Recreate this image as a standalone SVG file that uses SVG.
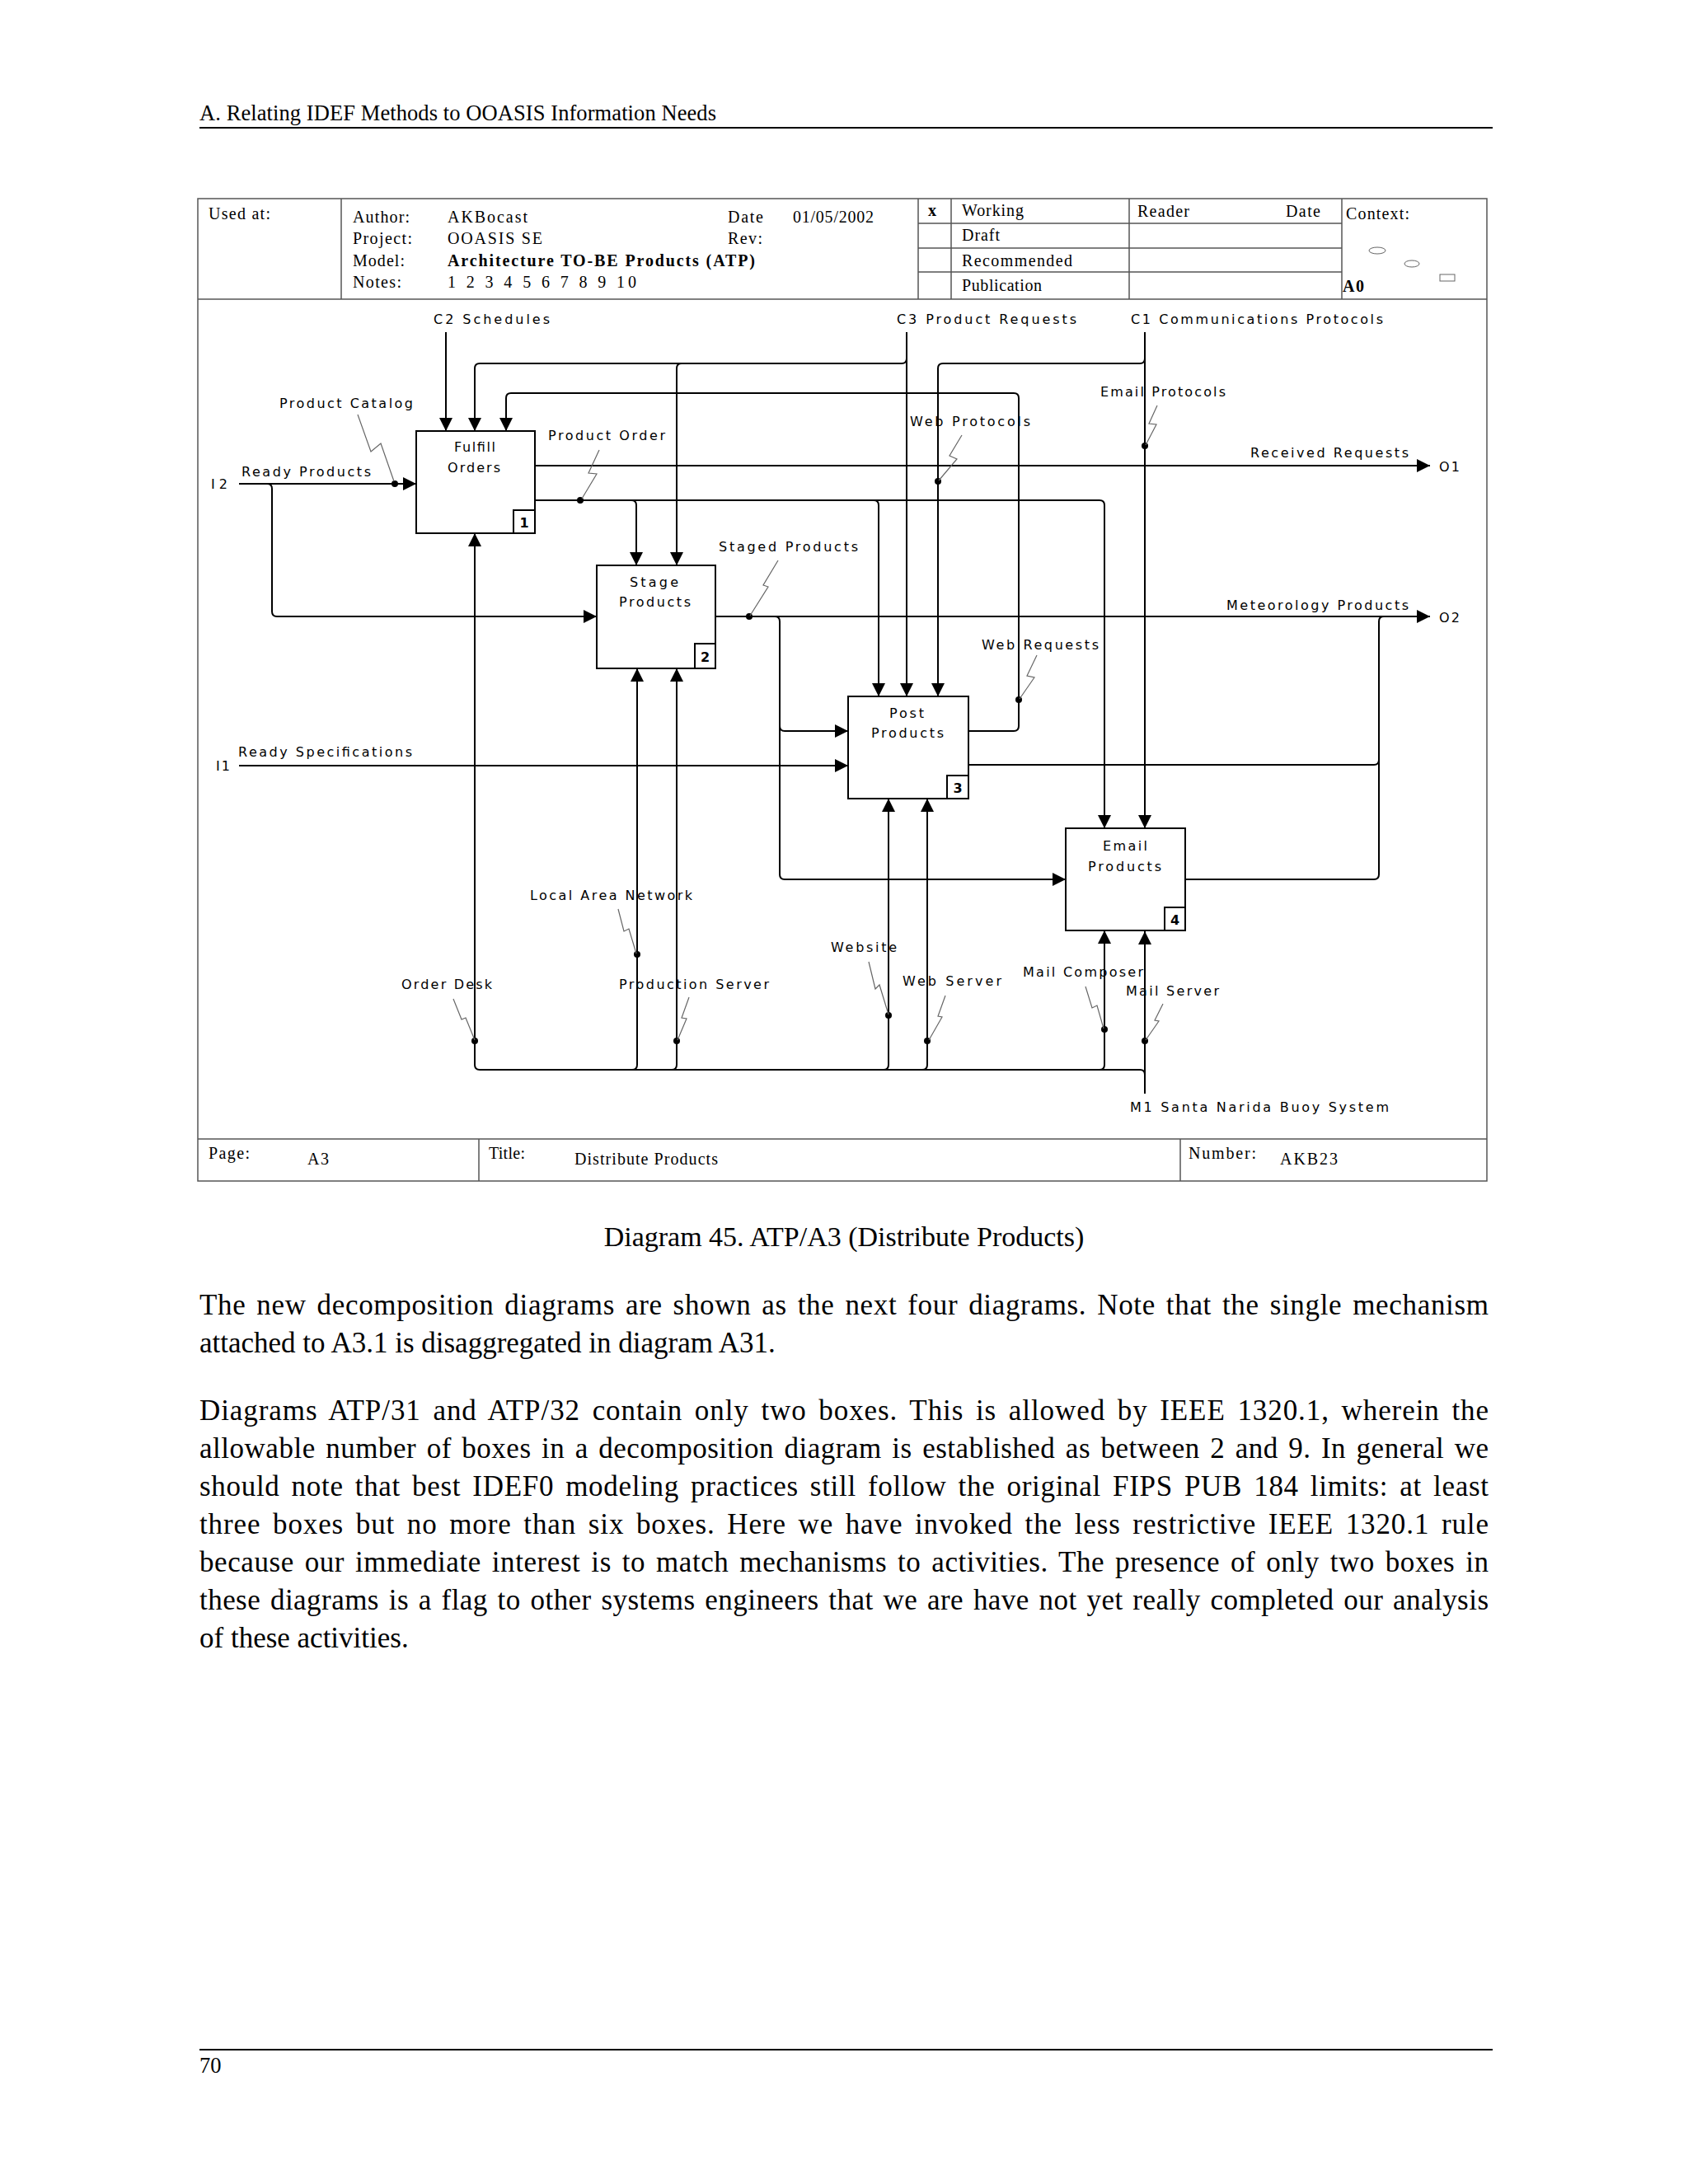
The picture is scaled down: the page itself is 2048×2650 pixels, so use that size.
<svg xmlns="http://www.w3.org/2000/svg" width="2048" height="2650" viewBox="0 0 2048 2650">
<style>
.fr{fill:none;stroke:#555;stroke-width:1.5}
.ln{fill:none;stroke:#000;stroke-width:2}
.sq{fill:none;stroke:#666;stroke-width:1.2}
.box{fill:#fff;stroke:#000;stroke-width:2}
.lb{font-family:"DejaVu Sans",Verdana,sans-serif;font-size:16px;fill:#000}
.num{font-family:"DejaVu Sans",Verdana,sans-serif;font-size:16px;font-weight:bold;fill:#000}
.hd{font-family:"Liberation Serif","Times New Roman",serif;font-size:20px;fill:#000}
.doc{font-family:"Liberation Serif","Times New Roman",serif;font-size:35px;fill:#000}
.dot{fill:#000}
</style>
<defs>
<marker id="ah" viewBox="0 0 16 16" refX="16" refY="8" markerWidth="16" markerHeight="16" markerUnits="userSpaceOnUse" orient="auto"><path d="M0,0 L16,8 L0,16 z" fill="#000"/></marker>
</defs>
<rect width="2048" height="2650" fill="#fff"/>

<g id="page-header">
<text class="doc" x="242" y="146" style="font-size:26.5px" textLength="627" lengthAdjust="spacing">A. Relating IDEF Methods to OOASIS Information Needs</text>
<line x1="242" y1="155" x2="1811" y2="155" stroke="#000" stroke-width="2"/>
</g>

<g id="frame">
<rect class="fr" x="240" y="241" width="1564" height="1192"/>
<line class="fr" x1="240" y1="363" x2="1804" y2="363"/>
<line class="fr" x1="414" y1="241" x2="414" y2="363"/>
<line class="fr" x1="1114" y1="241" x2="1114" y2="363"/>
<line class="fr" x1="1154" y1="241" x2="1154" y2="363"/>
<line class="fr" x1="1370" y1="241" x2="1370" y2="363"/>
<line class="fr" x1="1628" y1="241" x2="1628" y2="363"/>
<line class="fr" x1="1114" y1="271" x2="1628" y2="271"/>
<line class="fr" x1="1114" y1="301" x2="1628" y2="301"/>
<line class="fr" x1="1114" y1="330" x2="1628" y2="330"/>
<line class="fr" x1="240" y1="1382" x2="1804" y2="1382"/>
<line class="fr" x1="581" y1="1382" x2="581" y2="1433"/>
<line class="fr" x1="1432" y1="1382" x2="1432" y2="1433"/>
<ellipse cx="1671" cy="304" rx="10" ry="4" fill="none" stroke="#666" stroke-width="1"/>
<ellipse cx="1713" cy="320" rx="9" ry="4" fill="none" stroke="#666" stroke-width="1"/>
<rect x="1747" y="333" width="18" height="8" fill="none" stroke="#666" stroke-width="1"/>
</g>

<g id="header-text">
<text class="hd" x="253" y="266" textLength="75" lengthAdjust="spacing">Used at:</text>
<text class="hd" x="428" y="270" textLength="69" lengthAdjust="spacing">Author:</text>
<text class="hd" x="428" y="296" textLength="72" lengthAdjust="spacing">Project:</text>
<text class="hd" x="428" y="323" textLength="63" lengthAdjust="spacing">Model:</text>
<text class="hd" x="428" y="349" textLength="59" lengthAdjust="spacing">Notes:</text>
<text class="hd" x="543" y="270" textLength="97" lengthAdjust="spacing">AKBocast</text>
<text class="hd" x="543" y="296" textLength="115" lengthAdjust="spacing">OOASIS SE</text>
<text class="hd" x="543" y="323" font-weight="bold" textLength="373" lengthAdjust="spacing">Architecture TO-BE Products (ATP)</text>
<text class="hd" x="543" y="349" textLength="229" lengthAdjust="spacing">1 2 3 4 5 6 7 8 9 10</text>
<text class="hd" x="883" y="270" textLength="43" lengthAdjust="spacing">Date</text>
<text class="hd" x="883" y="296" textLength="42" lengthAdjust="spacing">Rev:</text>
<text class="hd" x="962" y="270" textLength="98" lengthAdjust="spacing">01/05/2002</text>
<text class="hd" x="1126" y="262" font-weight="bold">x</text>
<text class="hd" x="1167" y="262" textLength="75" lengthAdjust="spacing">Working</text>
<text class="hd" x="1167" y="292" textLength="46" lengthAdjust="spacing">Draft</text>
<text class="hd" x="1167" y="323" textLength="134" lengthAdjust="spacing">Recommended</text>
<text class="hd" x="1167" y="353" textLength="97" lengthAdjust="spacing">Publication</text>
<text class="hd" x="1380" y="263" textLength="63" lengthAdjust="spacing">Reader</text>
<text class="hd" x="1560" y="263" textLength="42" lengthAdjust="spacing">Date</text>
<text class="hd" x="1633" y="266" textLength="77" lengthAdjust="spacing">Context:</text>
<text class="hd" x="1629" y="354" font-weight="bold" textLength="26" lengthAdjust="spacing">A0</text>
</g>

<g id="footer-text">
<text class="hd" x="253" y="1406" textLength="50" lengthAdjust="spacing">Page:</text>
<text class="hd" x="373" y="1413" textLength="26" lengthAdjust="spacing">A3</text>
<text class="hd" x="593" y="1406" textLength="44" lengthAdjust="spacing">Title:</text>
<text class="hd" x="697" y="1413" textLength="174" lengthAdjust="spacing">Distribute Products</text>
<text class="hd" x="1442" y="1406" textLength="82" lengthAdjust="spacing">Number:</text>
<text class="hd" x="1553" y="1413" textLength="70" lengthAdjust="spacing">AKB23</text>
</g>

<g id="connectors">
<path class="ln" d="M541,403 V523" marker-end="url(#ah)"/>
<path class="ln" d="M1100,403 V845" marker-end="url(#ah)"/>
<path class="ln" d="M1100,435 Q1100,441 1094,441 H582 Q576,441 576,447 V523" marker-end="url(#ah)"/>
<path class="ln" d="M827,441 Q821,441 821,447 V686" marker-end="url(#ah)"/>
<path class="ln" d="M1389,403 V1005" marker-end="url(#ah)"/>
<path class="ln" d="M1389,435 Q1389,441 1383,441 H1144 Q1138,441 1138,447 V845" marker-end="url(#ah)"/>
<path class="ln" d="M1175,887 H1230 Q1236,887 1236,881 V483 Q1236,477 1230,477 H620 Q614,477 614,483 V523" marker-end="url(#ah)"/>
<path class="ln" d="M290,587 H505" marker-end="url(#ah)"/>
<path class="ln" d="M324,587 Q330,587 330,593 V742 Q330,748 336,748 H724" marker-end="url(#ah)"/>
<path class="ln" d="M649,565 H1735" marker-end="url(#ah)"/>
<path class="ln" d="M649,607 H1334 Q1340,607 1340,613 V1005" marker-end="url(#ah)"/>
<path class="ln" d="M766,607 Q772,607 772,613 V686" marker-end="url(#ah)"/>
<path class="ln" d="M1060,607 Q1066,607 1066,613 V845" marker-end="url(#ah)"/>
<path class="ln" d="M868,748 H1735" marker-end="url(#ah)"/>
<path class="ln" d="M940,748 Q946,748 946,754 V881 Q946,887 952,887 H1029" marker-end="url(#ah)"/>
<path class="ln" d="M946,880 V1061 Q946,1067 952,1067 H1293" marker-end="url(#ah)"/>
<path class="ln" d="M290,929 H1029" marker-end="url(#ah)"/>
<path class="ln" d="M1175,928 H1667 Q1673,928 1673,922"/>
<path class="ln" d="M1438,1067 H1667 Q1673,1067 1673,1061 V754 Q1673,748 1679,748"/>
<path class="ln" d="M1389,1327 V1130" marker-end="url(#ah)"/>
<path class="ln" d="M1389,1304 Q1389,1298 1383,1298 H582 Q576,1298 576,1292 V647" marker-end="url(#ah)"/>
<path class="ln" d="M767,1298 Q773,1298 773,1292 V811" marker-end="url(#ah)"/>
<path class="ln" d="M815,1298 Q821,1298 821,1292 V811" marker-end="url(#ah)"/>
<path class="ln" d="M1072,1298 Q1078,1298 1078,1292 V969" marker-end="url(#ah)"/>
<path class="ln" d="M1119,1298 Q1125,1298 1125,1292 V969" marker-end="url(#ah)"/>
<path class="ln" d="M1334,1298 Q1340,1298 1340,1292 V1129" marker-end="url(#ah)"/>
<circle class="dot" cx="479" cy="587" r="4"/>
<circle class="dot" cx="704" cy="607" r="4"/>
<circle class="dot" cx="909" cy="748" r="4"/>
<circle class="dot" cx="1138" cy="584" r="4"/>
<circle class="dot" cx="1389" cy="541" r="4"/>
<circle class="dot" cx="1236" cy="849" r="4"/>
<circle class="dot" cx="576" cy="1263" r="4"/>
<circle class="dot" cx="773" cy="1158" r="4"/>
<circle class="dot" cx="821" cy="1263" r="4"/>
<circle class="dot" cx="1078" cy="1232" r="4"/>
<circle class="dot" cx="1125" cy="1263" r="4"/>
<circle class="dot" cx="1340" cy="1249" r="4"/>
<circle class="dot" cx="1389" cy="1263" r="4"/>
<polyline class="sq" points="434,503 450,548 462,538 478,584"/>
<polyline class="sq" points="727,546 714,574 724,575 706,605"/>
<polyline class="sq" points="944,680 926,710 932,712 910,747"/>
<polyline class="sq" points="1167,528 1152,553 1161,557 1139,583"/>
<polyline class="sq" points="1404,492 1394,514 1403,515 1390,540"/>
<polyline class="sq" points="1258,795 1246,820 1255,822 1237,848"/>
<polyline class="sq" points="550,1212 560,1237 565,1235 576,1262"/>
<polyline class="sq" points="750,1103 757,1130 763,1127 772,1157"/>
<polyline class="sq" points="836,1210 827,1235 833,1236 822,1262"/>
<polyline class="sq" points="1054,1167 1062,1200 1067,1195 1078,1231"/>
<polyline class="sq" points="1147,1208 1138,1233 1143,1234 1127,1262"/>
<polyline class="sq" points="1317,1197 1325,1223 1331,1220 1339,1248"/>
<polyline class="sq" points="1411,1218 1401,1238 1406,1239 1390,1262"/>
</g>

<g id="arrow-labels">
<text class="lb" x="526" y="393" textLength="141" lengthAdjust="spacing">C2  Schedules</text>
<text class="lb" x="1088" y="393" textLength="218" lengthAdjust="spacing">C3  Product Requests</text>
<text class="lb" x="1372" y="393" textLength="306" lengthAdjust="spacing">C1  Communications Protocols</text>
<text class="lb" x="339" y="495" textLength="162" lengthAdjust="spacing">Product Catalog</text>
<text class="lb" x="293" y="578" textLength="157" lengthAdjust="spacing">Ready Products</text>
<text class="lb" x="256" y="593" textLength="20" lengthAdjust="spacing">I2</text>
<text class="lb" x="665" y="534" textLength="142" lengthAdjust="spacing">Product Order</text>
<text class="lb" x="872" y="669" textLength="169" lengthAdjust="spacing">Staged Products</text>
<text class="lb" x="1104" y="517" textLength="146" lengthAdjust="spacing">Web Protocols</text>
<text class="lb" x="1335" y="481" textLength="152" lengthAdjust="spacing">Email Protocols</text>
<text class="lb" x="1517" y="555" textLength="192" lengthAdjust="spacing">Received Requests</text>
<text class="lb" x="1746" y="572" textLength="25" lengthAdjust="spacing">O1</text>
<text class="lb" x="1488" y="740" textLength="221" lengthAdjust="spacing">Meteorology Products</text>
<text class="lb" x="1746" y="755" textLength="25" lengthAdjust="spacing">O2</text>
<text class="lb" x="1191" y="788" textLength="142" lengthAdjust="spacing">Web Requests</text>
<text class="lb" x="289" y="918" textLength="211" lengthAdjust="spacing">Ready Specifications</text>
<text class="lb" x="262" y="935" textLength="17" lengthAdjust="spacing">I1</text>
<text class="lb" x="643" y="1092" textLength="197" lengthAdjust="spacing">Local Area Network</text>
<text class="lb" x="487" y="1200" textLength="110" lengthAdjust="spacing">Order Desk</text>
<text class="lb" x="751" y="1200" textLength="182" lengthAdjust="spacing">Production Server</text>
<text class="lb" x="1008" y="1155" textLength="80" lengthAdjust="spacing">Website</text>
<text class="lb" x="1095" y="1196" textLength="120" lengthAdjust="spacing">Web Server</text>
<text class="lb" x="1241" y="1185" textLength="146" lengthAdjust="spacing">Mail Composer</text>
<text class="lb" x="1366" y="1208" textLength="113" lengthAdjust="spacing">Mail Server</text>
<text class="lb" x="1371" y="1349" textLength="314" lengthAdjust="spacing">M1  Santa Narida Buoy System</text>
</g>

<g id="node-1">
<rect class="box" x="505" y="523" width="144" height="124"/>
<rect class="box" x="623" y="619" width="26" height="28"/>
<text class="num" x="636" y="640" text-anchor="middle">1</text>
<text class="lb" x="551" y="548" textLength="50" lengthAdjust="spacing">Fulfill</text>
<text class="lb" x="543" y="573" textLength="64" lengthAdjust="spacing">Orders</text>
</g>
<g id="node-2">
<rect class="box" x="724" y="686" width="144" height="125"/>
<rect class="box" x="843" y="781" width="25" height="30"/>
<text class="num" x="855.5" y="803" text-anchor="middle">2</text>
<text class="lb" x="764" y="712" textLength="59" lengthAdjust="spacing">Stage</text>
<text class="lb" x="751" y="736" textLength="87" lengthAdjust="spacing">Products</text>
</g>
<g id="node-3">
<rect class="box" x="1029" y="845" width="146" height="124"/>
<rect class="box" x="1149" y="941" width="26" height="28"/>
<text class="num" x="1162" y="962" text-anchor="middle">3</text>
<text class="lb" x="1079" y="871" textLength="42" lengthAdjust="spacing">Post</text>
<text class="lb" x="1057" y="895" textLength="88" lengthAdjust="spacing">Products</text>
</g>
<g id="node-4">
<rect class="box" x="1293" y="1005" width="145" height="124"/>
<rect class="box" x="1413" y="1101" width="25" height="28"/>
<text class="num" x="1425.5" y="1122" text-anchor="middle">4</text>
<text class="lb" x="1338" y="1032" textLength="54" lengthAdjust="spacing">Email</text>
<text class="lb" x="1320" y="1057" textLength="89" lengthAdjust="spacing">Products</text>
</g>

<g id="document-text">
<text class="doc" x="1024" y="1512" text-anchor="middle" style="font-size:34px">Diagram 45. ATP/A3 (Distribute Products)</text>
<text class="doc" x="242" y="1595" word-spacing="3.5" textLength="1564" lengthAdjust="spacing">The new decomposition diagrams are shown as the next four diagrams.  Note that the single mechanism</text>
<text class="doc" x="242" y="1641">attached to A3.1 is disaggregated in diagram A31.</text>
<text class="doc" x="242" y="1723" word-spacing="5" textLength="1564" lengthAdjust="spacing">Diagrams ATP/31 and ATP/32 contain only two boxes. This is allowed by IEEE 1320.1, wherein the</text>
<text class="doc" x="242" y="1769" word-spacing="3.2" textLength="1564" lengthAdjust="spacing">allowable number of boxes in a decomposition diagram is established as between 2 and 9. In general we</text>
<text class="doc" x="242" y="1815" word-spacing="4.6" textLength="1564" lengthAdjust="spacing">should note that best IDEF0 modeling practices still follow the original FIPS PUB 184 limits: at least</text>
<text class="doc" x="242" y="1861" word-spacing="5" textLength="1564" lengthAdjust="spacing">three boxes but no more than six boxes. Here we have invoked the less restrictive IEEE 1320.1 rule</text>
<text class="doc" x="242" y="1907" word-spacing="3.6" textLength="1564" lengthAdjust="spacing">because our immediate interest is to match mechanisms to activities. The presence of only two boxes in</text>
<text class="doc" x="242" y="1953" word-spacing="2.6" textLength="1564" lengthAdjust="spacing">these diagrams is a flag to other systems engineers that we are have not yet really completed our analysis</text>
<text class="doc" x="242" y="1999">of these activities.</text>
<line x1="242" y1="2487" x2="1811" y2="2487" stroke="#000" stroke-width="2"/>
<text class="doc" x="242" y="2515" style="font-size:26.5px">70</text>
</g>
</svg>
